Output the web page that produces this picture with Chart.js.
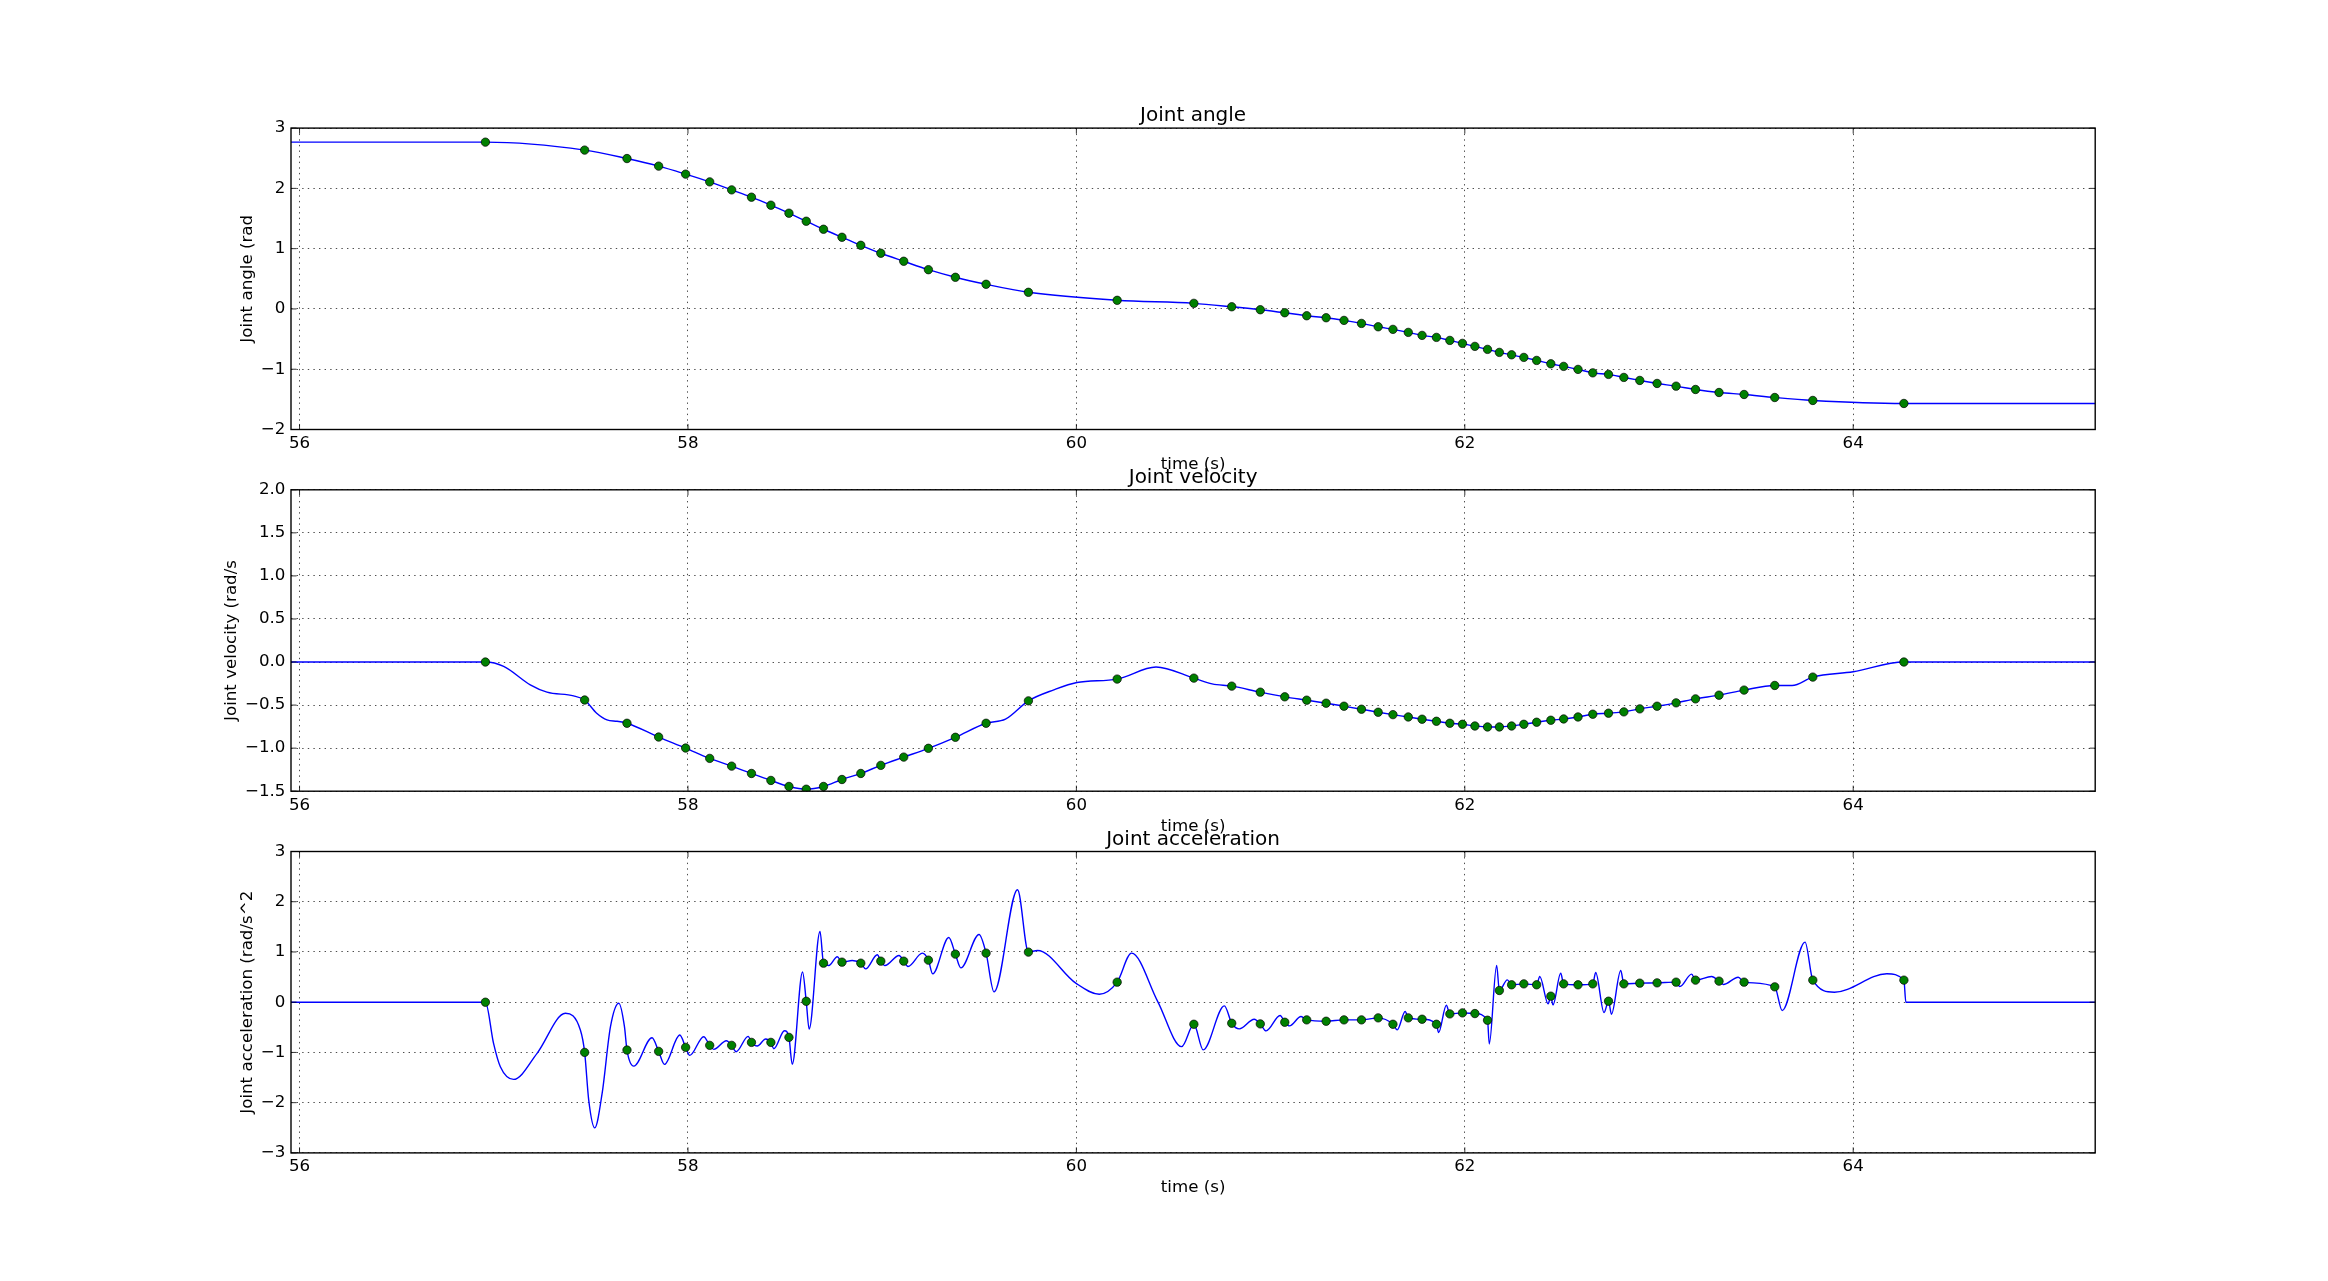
<!DOCTYPE html>
<html><head><meta charset="utf-8">
<script src="https://cdn.jsdelivr.net/npm/chart.js@4.4.1/dist/chart.umd.min.js"></script>
<style>
html,body{margin:0;padding:0;background:#fff;width:2328px;height:1281px;overflow:hidden;}
canvas{position:absolute;left:0;}
</style></head><body>
<canvas id="c1"></canvas><canvas id="c2"></canvas><canvas id="c3"></canvas>
<script>
// ---------------- data ----------------
const timeRange = [55.956, 65.246];
const xTickValues = [56, 58, 60, 62, 64];
const xTickLabels = ['56', '58', '60', '62', '64'];

const angleTickValues = [-2, -1, 0, 1, 2, 3];
const angleTickLabels = ['\u22122', '\u22121', '0', '1', '2', '3'];
const velTickValues = [-1.5, -1.0, -0.5, 0.0, 0.5, 1.0, 1.5, 2.0];
const velTickLabels = ['\u22121.5', '\u22121.0', '\u22120.5', '0.0', '0.5', '1.0', '1.5', '2.0'];
const accTickValues = [-3, -2, -1, 0, 1, 2, 3];
const accTickLabels = ['\u22123', '\u22122', '\u22121', '0', '1', '2', '3'];

// waypoint times (green markers)
const waypointT = [56.957,57.468,57.686,57.849,57.988,58.112,58.225,58.327,58.427,58.520,
  58.609,58.698,58.793,58.890,58.993,59.111,59.238,59.377,59.535,59.753,
  60.210,60.605,60.800,60.947,61.073,61.186,61.286,61.378,61.468,61.554,
  61.630,61.709,61.780,61.854,61.923,61.988,62.052,62.117,62.178,62.241,
  62.304,62.370,62.443,62.509,62.583,62.659,62.740,62.819,62.901,62.990,
  63.088,63.188,63.309,63.438,63.596,63.792,64.261];
const angleAtWaypoints = [2.767,2.635,2.495,2.369,2.236,2.108,1.975,1.854,1.721,1.588,
  1.455,1.322,1.189,1.056,0.924,0.791,0.651,0.525,0.409,0.276,
  0.143,0.093,0.036,-0.013,-0.063,-0.113,-0.146,-0.190,-0.240,-0.296,
  -0.339,-0.389,-0.439,-0.472,-0.522,-0.571,-0.621,-0.671,-0.721,-0.761,
  -0.804,-0.854,-0.910,-0.953,-1.003,-1.060,-1.086,-1.136,-1.186,-1.236,
  -1.281,-1.336,-1.386,-1.419,-1.469,-1.518,-1.568];
const velAtWaypoints = [0.0,-0.441,-0.711,-0.871,-0.999,-1.119,-1.209,-1.294,-1.375,-1.445,
  -1.477,-1.445,-1.364,-1.294,-1.200,-1.104,-1.002,-0.874,-0.711,-0.451,
  -0.198,-0.187,-0.280,-0.350,-0.404,-0.443,-0.478,-0.513,-0.548,-0.583,
  -0.611,-0.638,-0.664,-0.688,-0.711,-0.723,-0.743,-0.754,-0.754,-0.743,
  -0.723,-0.699,-0.676,-0.661,-0.638,-0.606,-0.594,-0.579,-0.544,-0.513,
  -0.474,-0.428,-0.385,-0.326,-0.272,-0.175,0.0];
const accAtWaypoints = [0.0,-0.999,-0.953,-0.979,-0.899,-0.859,-0.859,-0.800,-0.800,-0.700,
  0.018,0.777,0.797,0.777,0.817,0.817,0.837,0.957,0.977,0.997,
  0.399,-0.439,-0.419,-0.432,-0.399,-0.352,-0.379,-0.352,-0.352,-0.312,
  -0.439,-0.312,-0.339,-0.439,-0.233,-0.213,-0.226,-0.359,0.233,0.346,
  0.365,0.346,0.120,0.365,0.346,0.365,0.020,0.365,0.379,0.385,
  0.399,0.439,0.419,0.399,0.306,0.439,0.439];

// additional samples of the continuous (blue) trajectories between waypoints
const angleCurveT = [55.956, 65.246];
const angleCurveV = [2.767, -1.568];

const velCurveT = [55.956,57.051,57.188,57.274,57.411,57.530,57.583,57.635,59.635,59.884,
  60.003,60.410,60.699,63.685,64.000,65.246];
const velCurveV = [0,-0.051,-0.265,-0.350,-0.393,-0.594,-0.672,-0.688,-0.664,-0.323,
  -0.238,-0.058,-0.253,-0.272,-0.113,0];

const accCurveT = [55.956,56.999,57.034,57.102,57.223,57.369,57.446,57.489,57.520,57.558,
  57.601,57.644,57.673,57.721,57.815,57.879,57.958,58.009,58.081,58.133,
  58.198,58.248,58.310,58.357,58.400,58.442,58.497,58.537,58.590,58.624,
  58.680,58.725,58.769,58.846,58.915,58.975,59.014,59.087,59.133,59.207,
  59.260,59.343,59.405,59.499,59.576,59.697,59.800,59.997,60.118,60.284,
  60.419,60.542,60.653,60.762,60.839,60.916,60.977,61.049,61.097,61.157,
  61.652,61.693,61.865,61.905,62.126,62.164,62.219,62.386,62.429,62.454,
  62.494,62.674,62.717,62.755,62.803,63.107,63.168,63.271,63.331,63.408,
  63.634,63.752,63.903,64.173,64.271,65.246];
const accCurveV = [0,-0.819,-1.285,-1.537,-1.018,-0.221,-0.554,-1.949,-2.501,-1.816,
  -0.488,-0.022,-0.488,-1.272,-0.707,-1.238,-0.654,-1.059,-0.687,-0.939,
  -0.767,-0.986,-0.680,-0.873,-0.733,-0.926,-0.567,-1.238,0.602,-0.534,
  1.409,0.730,0.904,0.830,0.664,0.944,0.731,0.930,0.711,0.977,
  0.565,1.289,0.684,1.349,0.206,2.239,1.030,0.379,0.159,0.977,
  0.013,-0.884,-0.950,-0.073,-0.532,-0.339,-0.571,-0.266,-0.472,-0.286,
  -0.551,-0.186,-0.605,-0.060,-0.831,0.731,0.445,0.512,-0.033,-0.053,
  0.578,0.591,-0.206,-0.239,0.631,0.312,0.558,0.512,0.352,0.498,
  -0.166,1.196,0.199,0.565,0,0];

// ---------------- helpers ----------------
function pairs(ts, vs) { return ts.map((t, i) => ({x: t, y: vs[i]})); }
function merged(ts1, vs1, ts2, vs2) {
  return pairs(ts1, vs1).concat(pairs(ts2, vs2)).sort((a, b) => a.x - b.x);
}

const FONT = "'DejaVu Sans', 'DejaVu Sans Book', sans-serif";
Chart.defaults.color = '#000';
Chart.defaults.font.family = FONT;

const AREA_LEFT = 291, AREA_RIGHT = 2095.2, FIG_W = 2328;

const framePlugin = {
  id: 'mplFrame',
  afterDraw(chart) {
    const {ctx, chartArea: a} = chart;
    const xs = chart.scales.x, ys = chart.scales.y;
    const L = 5.56;
    ctx.save();
    ctx.strokeStyle = '#000';
    ctx.lineWidth = 0.8;
    ctx.beginPath();
    xs.ticks.forEach(t => {
      const p = xs.getPixelForValue(t.value);
      ctx.moveTo(p, a.bottom); ctx.lineTo(p, a.bottom - L);
      ctx.moveTo(p, a.top); ctx.lineTo(p, a.top + L);
    });
    ys.ticks.forEach(t => {
      const p = ys.getPixelForValue(t.value);
      ctx.moveTo(a.left, p); ctx.lineTo(a.left + L, p);
      ctx.moveTo(a.right, p); ctx.lineTo(a.right - L, p);
    });
    ctx.stroke();
    ctx.lineWidth = 1.39;
    ctx.strokeRect(a.left, a.top, a.right - a.left, a.bottom - a.top);
    ctx.restore();
  }
};

function makePanel(cfg) {
  const canvas = document.getElementById(cfg.id);
  const H = Math.round(cfg.areaBottom + 45.3 - cfg.top);
  canvas.width = FIG_W; canvas.height = H;
  canvas.style.top = cfg.top + 'px';
  canvas.style.width = FIG_W + 'px'; canvas.style.height = H + 'px';
  const xScaleH = cfg.top + H - cfg.areaBottom;
  const titlePadTop = cfg.areaTop - 12.1 - cfg.top - 12;
  const titlePadBottom = cfg.areaTop - cfg.top - 24 - titlePadTop;

  new Chart(canvas, {
    type: 'line',
    data: {
      datasets: [
        {
          data: cfg.points,
          showLine: false,
          pointRadius: 4.2,
          pointHoverRadius: 4.2,
          pointBackgroundColor: '#008000',
          pointBorderColor: '#000000',
          pointBorderWidth: 0.7,
          order: 0
        },
        {
          data: cfg.curve,
          borderColor: '#0000ff',
          borderWidth: 1.4,
          pointRadius: 0,
          pointHoverRadius: 0,
          fill: false,
          cubicInterpolationMode: 'monotone',
          order: 1
        }
      ]
    },
    options: {
      responsive: false,
      animation: false,
      devicePixelRatio: 1,
      events: [],
      layout: {padding: {left: 0, right: FIG_W - AREA_RIGHT, top: 0, bottom: 0}},
      plugins: {
        legend: {display: false},
        tooltip: {enabled: false},
        title: {
          display: true,
          text: cfg.title,
          fullSize: false,
          color: '#000',
          font: {family: FONT, size: 20, weight: 'normal', lineHeight: 1.2},
          padding: {top: titlePadTop, bottom: titlePadBottom}
        }
      },
      scales: {
        x: {
          type: 'linear',
          min: timeRange[0], max: timeRange[1],
          afterBuildTicks: s => { s.ticks = xTickValues.map(v => ({value: v})); },
          afterFit: s => { s.height = xScaleH; },
          ticks: {
            callback: (v, i) => xTickLabels[i],
            font: {family: FONT, size: 16.67},
            color: '#000', padding: 4, maxRotation: 0, autoSkip: false, includeBounds: false
          },
          grid: {color: '#000', lineWidth: 0.7, drawTicks: false},
          border: {display: false, dash: [1.4, 4.2]},
          title: {display: true, text: 'time (s)', color: '#000',
            font: {family: FONT, size: 16.67, lineHeight: 1.2}, padding: {top: 0, bottom: 0}}
        },
        y: {
          type: 'linear',
          min: cfg.yMin, max: cfg.yMax,
          afterBuildTicks: s => { s.ticks = cfg.yTicks.map(v => ({value: v})); },
          afterFit: s => { s.width = AREA_LEFT; },
          ticks: {
            callback: (v, i) => cfg.yLabels[i],
            font: {family: FONT, size: 16.67},
            color: '#000', padding: 5.6, autoSkip: false, includeBounds: false
          },
          grid: {color: '#000', lineWidth: 0.7, drawTicks: false},
          border: {display: false, dash: [1.4, 4.2]},
          title: {display: true, text: cfg.yTitle, color: '#000',
            font: {family: FONT, size: 16.67, lineHeight: 1.2},
            padding: {top: cfg.yTitleX - 10, bottom: 0}}
        }
      }
    },
    plugins: [framePlugin]
  });
}

makePanel({
  id: 'c1', top: 0, areaTop: 128.1, areaBottom: 429.5,
  title: 'Joint angle', yTitle: 'Joint angle (rad', yTitleX: 247.6,
  yMin: -2, yMax: 3, yTicks: angleTickValues, yLabels: angleTickLabels,
  points: pairs(waypointT, angleAtWaypoints),
  curve: merged(waypointT, angleAtWaypoints, angleCurveT, angleCurveV)
});
makePanel({
  id: 'c2', top: 440, areaTop: 489.8, areaBottom: 791.2,
  title: 'Joint velocity', yTitle: 'Joint velocity (rad/s', yTitleX: 232,
  yMin: -1.5, yMax: 2.0, yTicks: velTickValues, yLabels: velTickLabels,
  points: pairs(waypointT, velAtWaypoints),
  curve: merged(waypointT, velAtWaypoints, velCurveT, velCurveV)
});
makePanel({
  id: 'c3', top: 800, areaTop: 851.5, areaBottom: 1152.9,
  title: 'Joint acceleration', yTitle: 'Joint acceleration (rad/s^2', yTitleX: 247.8,
  yMin: -3, yMax: 3, yTicks: accTickValues, yLabels: accTickLabels,
  points: pairs(waypointT, accAtWaypoints),
  curve: merged(waypointT, accAtWaypoints, accCurveT, accCurveV)
});
</script>
</body></html>
